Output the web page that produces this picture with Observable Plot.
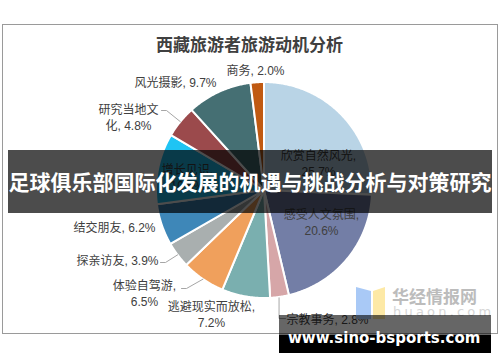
<!DOCTYPE html>
<html>
<head>
<meta charset="utf-8">
<script src="https://cdn.jsdelivr.net/npm/d3@7"></script>
<script src="https://cdn.jsdelivr.net/npm/@observablehq/plot@0.6"></script>
<style>
  html, body { margin: 0; padding: 0; background: #fff; }
  body { width: 500px; height: 362px; overflow: hidden; position: relative; }
  #chart { position: absolute; left: 0; top: 0; }
  .frame { position: absolute; left: 2px; top: 24px; width: 494px; height: 308px; border: 1px solid #9a9a9a; pointer-events: none; }
  .banner { position: absolute; left: 8px; top: 150px; width: 484px; height: 63px; background: rgba(0,0,0,0.7);
            color: #fff; font: bold 21px "Noto Sans CJK SC", sans-serif; line-height: 63px; text-align: center; white-space: nowrap; letter-spacing: 0; }
  .wm-logo { position: absolute; left: 355px; top: 285px; }
  .wm-cn { position: absolute; left: 392px; top: 285px; font: bold 17px "Noto Sans CJK SC", sans-serif; color: #bcbcbc; line-height: 22px; white-space: nowrap; }
  .wm-en { position: absolute; left: 393px; top: 304px; font: 13px "DejaVu Sans", sans-serif; color: #d6d6d6; letter-spacing: 3.2px; line-height: 16px; white-space: nowrap; }
  .box1 { position: absolute; left: 279px; top: 315px; width: 212px; height: 20px; background: rgba(0,0,0,0.6); }
  .box2 { position: absolute; left: 279px; top: 335px; width: 212px; height: 18px; background: #000; }
  .url { position: absolute; left: 288px; top: 327px; font: bold 15px "DejaVu Sans", sans-serif; color: #fff; line-height: 22px; white-space: nowrap; }
</style>
</head>
<body>
<div id="chart"></div>
<div class="frame"></div>
<div class="banner">足球俱乐部国际化发展的机遇与挑战分析与对策研究</div>
<svg class="wm-logo" width="32" height="34" viewBox="0 0 32 34">
  <polygon points="1,2 16,6 16,34 1,34" fill="#a9c9f6"/>
  <polygon points="18,6 30,2 30,34 18,34" fill="#fde9a6"/>
</svg>
<div class="wm-cn">华经情报网</div>
<div class="wm-en">huaon.com</div>
<div class="box1"></div>
<div class="box2"></div>
<div class="url">www.sino-bsports.com</div>
<script>
// ---- data ----
const chartTitle = "西藏旅游者旅游动机分析";
const categories = ["欣赏自然风光", "感受人文氛围", "宗教事务", "逃避现实而放松", "体验自驾游", "探亲访友", "结交朋友", "增长见识", "研究当地文化", "风光摄影", "商务"];
const values = [25.7, 20.6, 2.8, 7.2, 6.5, 3.9, 6.2, 10.6, 4.8, 9.7, 2.0];
const colors = ["#b9d4e6", "#737ea6", "#d6a6a8", "#7aafaf", "#f0a05c", "#a9afaf", "#3e87b8", "#1fc4f4", "#9b4a4c", "#456f73", "#c05a12"];

// ---- layout (annotation placement, not data) ----
const pieCenter = {x: 263.5, y: 189.5};
const pieRadius = 108;
const labelLayout = [
  {x: 318, y: 162, anchor: "middle", brk: "comma"},
  {x: 321, y: 221, anchor: "middle", brk: "comma"},
  {x: 286, y: 318, anchor: "start", brk: null, leader: "down"},
  {x: 211, y: 313.5, anchor: "middle", brk: "comma"},
  {x: 144, y: 292, anchor: "middle", brk: "comma", leader: "left", lx: 181, ly: 288},
  {x: 158, y: 259, anchor: "end", brk: null, leader: "left", lx: 160, ly: 262},
  {x: 155, y: 226, anchor: "end", brk: null},
  {x: 187, y: 176.5, anchor: "middle", brk: "comma"},
  {x: 128, y: 116.5, anchor: "middle", brk: 5, leader: "left", lx: 161, ly: 110},
  {x: 175, y: 81, anchor: "middle", brk: null},
  {x: 255, y: 69, anchor: "middle", brk: null}
];

const arcs = d3.pie().sort(null).value(d => d)(values);
const edgePoint = (a, r) => ({x: pieCenter.x + r * Math.sin(a), y: pieCenter.y - r * Math.cos(a)});

const sliceMarks = arcs.map((arc, i) => {
  const pts = [{x: pieCenter.x, y: pieCenter.y}];
  const n = Math.max(2, Math.ceil((arc.endAngle - arc.startAngle) / (Math.PI / 360)));
  for (let k = 0; k <= n; k++) {
    pts.push(edgePoint(arc.startAngle + (arc.endAngle - arc.startAngle) * k / n, pieRadius));
  }
  return Plot.line(pts, {x: "x", y: "y", fill: colors[i], stroke: "#fff", strokeWidth: 2, strokeLinejoin: "round", curve: "linear-closed"});
});

const labels = categories.map((c, i) => {
  const L = labelLayout[i];
  const full = `${c}, ${values[i].toFixed(1)}%`;
  let text = full;
  if (L.brk === "comma") { const b = c.length + 1; text = full.slice(0, b) + "\n" + full.slice(b).trim(); }
  else if (typeof L.brk === "number") { text = full.slice(0, L.brk) + "\n" + full.slice(L.brk).trim(); }
  return {x: L.x, y: L.y, anchor: L.anchor, text};
});

const leaders = [];
arcs.forEach((arc, i) => {
  const L = labelLayout[i];
  if (!L.leader) return;
  const mid = (arc.startAngle + arc.endAngle) / 2;
  const e = edgePoint(mid, pieRadius);
  if (L.leader === "left") {
    leaders.push({id: i, x: L.lx, y: L.ly}, {id: i, x: L.lx + 5, y: L.ly}, {id: i, x: e.x, y: e.y});
  } else {
    leaders.push({id: i, x: e.x - 0.5, y: e.y + 1}, {id: i, x: e.x - 0.5, y: L.y}, {id: i, x: L.x - 1, y: L.y});
  }
});

const fontFam = "'Liberation Sans', 'Noto Sans CJK SC', sans-serif";
const textMarks = ["start", "middle", "end"].map(a =>
  Plot.text(labels.filter(d => d.anchor === a), {
    x: "x", y: "y", text: "text", textAnchor: a, lineAnchor: "middle", lineHeight: 1.35,
    fontSize: 12, fill: "#404040", fontFamily: fontFam
  })
);

const chart = Plot.plot({
  width: 500, height: 362, margin: 0,
  x: {domain: [0, 500], range: [0, 500], axis: null},
  y: {domain: [0, 362], range: [0, 362], axis: null},
  style: {background: "transparent", overflow: "visible"},
  marks: [
    Plot.text([chartTitle], {x: () => 249, y: () => 45, text: d => d, fontSize: 17, fontWeight: "bold", fill: "#404040", fontFamily: "'Noto Sans CJK SC', sans-serif"}),
    ...sliceMarks,
    Plot.line(leaders, {x: "x", y: "y", z: "id", stroke: "#a6a6a6", strokeWidth: 1}),
    ...textMarks
  ]
});
document.getElementById("chart").appendChild(chart);
</script>
</body>
</html>
